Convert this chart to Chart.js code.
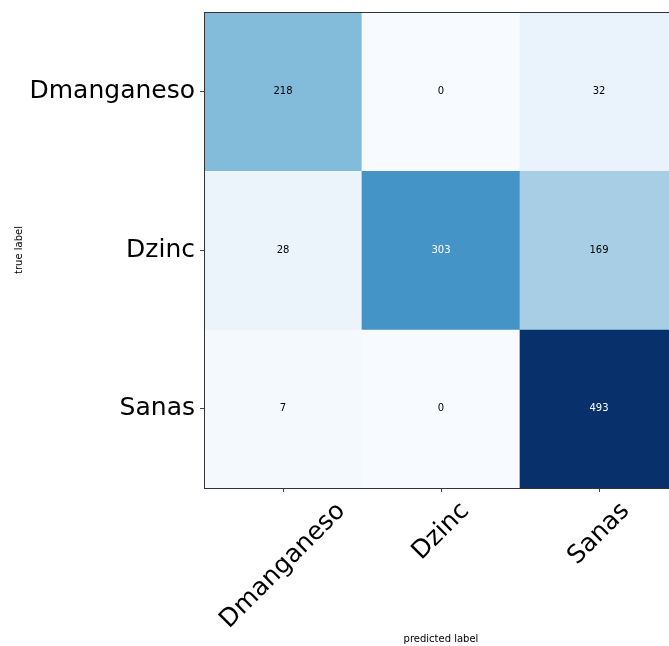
<!DOCTYPE html>
<html>
<head>
<meta charset="utf-8">
<script src="https://cdn.jsdelivr.net/npm/chart.js@4.4.0/dist/chart.umd.min.js"></script>
<style>
  html, body { margin: 0; padding: 0; background: #fff; overflow: hidden; }
  #wrap { position: absolute; left: 0; top: 0; width: 690px; height: 646px; }
</style>
</head>
<body>
<div id="wrap"><canvas id="cm"></canvas></div>
<script>
// Confusion matrix: rows = true label, columns = predicted label
const classes = ['Dmanganeso', 'Dzinc', 'Sanas'];
const rowDmanganeso = [218, 0, 32];
const rowDzinc = [28, 303, 169];
const rowSanas = [7, 0, 493];
const matrix = [rowDmanganeso, rowDzinc, rowSanas];

const vmax = Math.max(...matrix.flat());
const thresh = vmax / 2;

// matplotlib "Blues" colormap
const bluesStops = ['#f7fbff', '#deebf7', '#c6dbef', '#9ecae1', '#6baed6',
                    '#4292c6', '#2171b5', '#08519c', '#08306b'];
function hexToRgb(h) {
    return [1, 3, 5].map(i => parseInt(h.substr(i, 2), 16));
}
function blues(t) {
    const pos = Math.min(Math.max(t, 0), 1) * (bluesStops.length - 1);
    const i = Math.min(Math.floor(pos), bluesStops.length - 2);
    const f = pos - i;
    const a = hexToRgb(bluesStops[i]), b = hexToRgb(bluesStops[i + 1]);
    const c = a.map((v, k) => Math.round(v + (b[k] - v) * f));
    return `rgb(${c[0]}, ${c[1]}, ${c[2]})`;
}

const FONT = '"DejaVu Sans", sans-serif';

// count text in the middle of each cell
const cellText = {
    id: 'cellText',
    afterDatasetsDraw(chart) {
        const ctx = chart.ctx;
        ctx.save();
        ctx.font = `10px ${FONT}`;
        ctx.textAlign = 'center';
        ctx.textBaseline = 'middle';
        chart.data.datasets.forEach((ds, r) => {
            chart.getDatasetMeta(r).data.forEach((el, c) => {
                const v = matrix[r][c];
                ctx.fillStyle = v > thresh ? '#fff' : '#000';
                ctx.fillText(String(v), el.x, (el.y + el.base) / 2);
            });
        });
        ctx.restore();
    }
};

// rotated x tick labels, centred under each tick like matplotlib
const xLabels = {
    id: 'xLabels',
    afterDraw(chart) {
        const ctx = chart.ctx;
        const x = chart.scales.x;
        ctx.save();
        ctx.font = `25px ${FONT}`;
        ctx.fillStyle = '#000';
        ctx.textAlign = 'center';
        ctx.textBaseline = 'middle';
        classes.forEach((name, i) => {
            const w = ctx.measureText(name).width;
            const half = (w + 29) * Math.SQRT1_2 / 2;
            ctx.save();
            ctx.translate(x.getPixelForValue(i), x.top + 9 + half);
            ctx.rotate(-Math.PI / 4);
            ctx.fillText(name, 0, 0);
            ctx.restore();
        });
        ctx.restore();
    }
};

const titleFont = { family: FONT, size: 10 };
const spine = { display: true, color: '#333', width: 1, z: 1 };

new Chart(document.getElementById('cm'), {
    type: 'bar',
    data: {
        labels: classes,
        datasets: matrix.map((row, r) => ({
            label: classes[r],
            data: row.map(() => [r, r + 1]),
            backgroundColor: row.map(v => blues(v / vmax)),
            borderWidth: 0,
            grouped: false,
            barPercentage: 1,
            categoryPercentage: 1
        }))
    },
    options: {
        responsive: true,
        maintainAspectRatio: false,
        animation: false,
        layout: { padding: { top: 12, right: 12, left: 0, bottom: 0 } },
        plugins: {
            legend: { display: false },
            tooltip: { enabled: false }
        },
        scales: {
            x: {
                type: 'category',
                position: 'bottom',
                grid: { offset: false, drawOnChartArea: false, drawTicks: true, tickLength: 4, color: '#444' },
                border: spine,
                ticks: { display: false },
                title: { display: true, text: 'predicted label', font: titleFont, color: '#000', padding: { top: 0, bottom: 1 } },
                afterFit: s => { s.height = 158; s.paddingLeft = 0; s.paddingRight = 0; }
            },
            xTop: {
                type: 'category',
                position: 'top',
                grid: { display: false },
                ticks: { display: false },
                border: spine,
                afterFit: s => { s.height = 0; s.paddingLeft = 0; s.paddingRight = 0; }
            },
            y: {
                type: 'linear',
                min: 0,
                max: 3,
                reverse: true,
                afterBuildTicks: s => { s.ticks = [0.5, 1.5, 2.5].map(v => ({ value: v })); },
                ticks: {
                    callback: (v, i) => classes[i],
                    font: { family: FONT, size: 25 },
                    color: '#000',
                    padding: 5,
                    autoSkip: false
                },
                grid: { drawOnChartArea: false, drawTicks: true, tickLength: 4, color: '#444' },
                border: spine,
                title: { display: true, text: 'true label', font: titleFont, color: '#000', padding: { top: 13, bottom: 0 } },
                afterFit: s => { s.width = 204; s.paddingTop = 0; s.paddingBottom = 0; }
            }
        }
    },
    plugins: [cellText, xLabels]
});
</script>
</body>
</html>
